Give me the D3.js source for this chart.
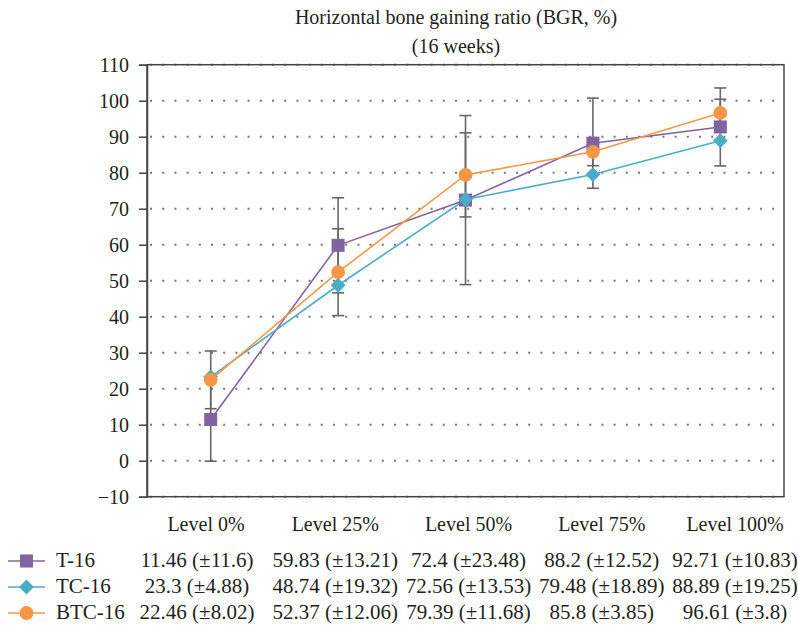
<!DOCTYPE html>
<html>
<head>
<meta charset="utf-8">
<script src="https://cdn.jsdelivr.net/npm/d3@7"></script>
<style>
  body { margin: 0; background: #fff; }
</style>
</head>
<body>
<div id="chart"></div>
<script>
const levels = ["Level 0%", "Level 25%", "Level 50%", "Level 75%", "Level 100%"]
const seriesNames = ["T-16", "TC-16", "BTC-16"]
const tMeans = [11.46, 59.83, 72.4, 88.2, 92.71]
const tSd = [11.6, 13.21, 23.48, 12.52, 10.83]
const tcMeans = [23.3, 48.74, 72.56, 79.48, 88.89]
const tcSd = [4.88, 19.32, 13.53, 18.89, 19.25]
const btcMeans = [22.46, 52.37, 79.39, 85.8, 96.61]
const btcSd = [8.02, 12.06, 11.68, 3.85, 3.8]
const yTicks = d3.range(-10, 111, 10)
const titleLines = ["Horizontal bone gaining ratio (BGR, %)", "(16 weeks)"]

const FONT = "'Liberation Serif', 'DejaVu Serif', serif"
const INK = "#231f20"

const series = [
	{ name: seriesNames[0], means: tMeans, sd: tSd, color: "#8064a2", symbol: d3.symbolSquare, size: 170, rot: 0, bars: true },
	{ name: seriesNames[1], means: tcMeans, sd: tcSd, color: "#4bacc6", symbol: d3.symbolSquare, size: 110, rot: 45, bars: false },
	{ name: seriesNames[2], means: btcMeans, sd: btcSd, color: "#f79646", symbol: d3.symbolCircle, size: 150, rot: 0, bars: true },
]

const width = 798, height = 629
const svg = d3.select("#chart").append("svg").attr("width", width).attr("height", height)

const x = d3.scaleBand().domain(levels).range([147, 784])
const y = d3.scaleLinear().domain([-10, 110]).range([496.7, 64.7])
const cx = d => x(d) + x.bandwidth() / 2
// the data table below runs a little wider than the plot
const tx = d3.scalePoint().domain(levels).range([202, 735])

// title
svg.selectAll(".title")
	.data(titleLines)
	.enter()
	.append("text")
	.attr("x", 456)
	.attr("y", (d, i) => 24 + i * 29)
	.attr("text-anchor", "middle")
	.text(d => d)

// dotted grid
svg.append("g")
	.selectAll("line")
	.data(yTicks)
	.enter()
	.append("line")
	.attr("x1", 150)
	.attr("x2", 784)
	.attr("y1", d => y(d))
	.attr("y2", d => y(d))
	.attr("stroke", "#777")
	.attr("stroke-width", 2)
	.attr("stroke-dasharray", "2,10.2")

// frame
svg.append("rect")
	.attr("x", 147)
	.attr("y", y(110))
	.attr("width", 784 - 147)
	.attr("height", y(-10) - y(110))
	.attr("fill", "none")
	.attr("stroke", "#444")
	.attr("stroke-width", 1.5)

// y axis
const yAxis = svg.append("g")
	.attr("transform", "translate(147,0)")
	.call(d3.axisLeft(y).tickValues(yTicks).tickSize(8).tickPadding(10))
yAxis.select(".domain").attr("stroke", "#444").attr("stroke-width", 1.5)
yAxis.selectAll(".tick line").attr("stroke", "#444").attr("stroke-width", 1.5)

// error bars
const capW = 6
series.filter(s => s.bars).forEach(s => {
	const g = svg.append("g")
	levels.forEach((lv, i) => {
		const lo = y(s.means[i] - s.sd[i]), hi = y(s.means[i] + s.sd[i]), px = cx(lv)
		g.append("line").attr("x1", px).attr("x2", px).attr("y1", lo).attr("y2", hi)
			.attr("stroke", "#666").attr("stroke-width", 1.6)
		g.append("line").attr("x1", px - capW).attr("x2", px + capW).attr("y1", lo).attr("y2", lo)
			.attr("stroke", "#666").attr("stroke-width", 1.6)
		g.append("line").attr("x1", px - capW).attr("x2", px + capW).attr("y1", hi).attr("y2", hi)
			.attr("stroke", "#666").attr("stroke-width", 1.6)
	})
})

// lines and markers
const line = d3.line().x((d, i) => cx(levels[i])).y(d => y(d))
series.forEach(s => {
	svg.append("path")
		.attr("d", line(s.means))
		.attr("fill", "none")
		.attr("stroke", s.color)
		.attr("stroke-width", 1.6)
})
series.forEach(s => {
	svg.append("g")
		.selectAll("path")
		.data(s.means)
		.enter()
		.append("path")
		.attr("d", d3.symbol().type(s.symbol).size(s.size))
		.attr("transform", (d, i) => `translate(${cx(levels[i])},${y(d)}) rotate(${s.rot})`)
		.attr("fill", s.color)
})

// category header
svg.selectAll(".cat")
	.data(levels)
	.enter()
	.append("text")
	.attr("class", "cat")
	.attr("x", (d, i) => tx(d) + (i === 0 ? 4 : 0))
	.attr("y", 531)
	.attr("text-anchor", "middle")
	.text(d => d)

// data table with legend
const rowY = [567, 593, 619]
series.forEach((s, r) => {
	const row = svg.append("g")
	const my = rowY[r] - 6
	row.append("line").attr("x1", 8).attr("x2", 45).attr("y1", my).attr("y2", my)
		.attr("stroke", s.color).attr("stroke-width", 1.6)
	row.append("path")
		.attr("d", d3.symbol().type(s.symbol).size(s.size))
		.attr("transform", `translate(26.5,${my}) rotate(${s.rot})`)
		.attr("fill", s.color)
	row.append("text").attr("class", "cell").attr("x", 56).attr("y", rowY[r]).text(s.name)
	row.selectAll(".val")
		.data(levels)
		.enter()
		.append("text")
		.attr("class", "cell")
		.attr("x", (d, i) => tx(d) - (i === 0 ? 5 : 0))
		.attr("y", rowY[r])
		.attr("text-anchor", "middle")
		.text((d, i) => `${s.means[i]} (±${s.sd[i]})`)
})

svg.selectAll("text")
	.style("font-family", FONT)
	.style("font-size", "20px")
	.style("fill", INK)
svg.selectAll("text.cell").style("font-size", "21px")
</script>
</body>
</html>
